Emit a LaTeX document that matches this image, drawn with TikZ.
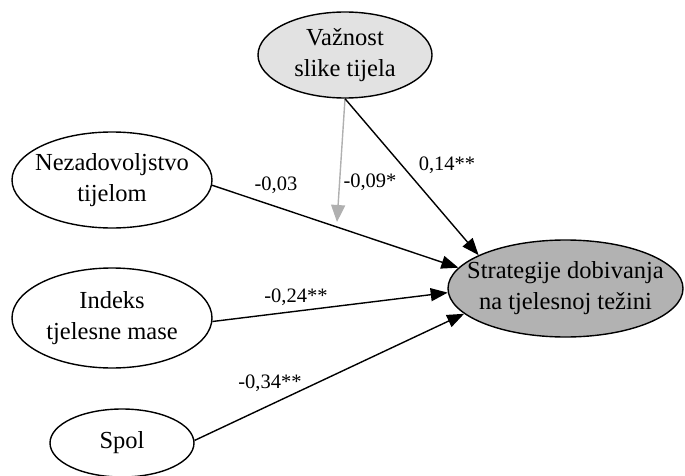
\documentclass[tikz,border=0pt]{standalone}
\usepackage{fontspec}
\setmainfont{Liberation Serif}
\usetikzlibrary{shapes.geometric,arrows.meta}
\definecolor{lightfill}{RGB}{226,226,226}
\definecolor{darkfill}{RGB}{178,178,178}
\definecolor{grayarrow}{RGB}{176,176,176}
\tikzset{
  var/.style={ellipse, draw=black, line width=1.4pt, inner sep=0pt},
  vtext/.style={align=center, font=\fontsize{24.5}{31}\selectfont},
  path/.style={draw=black, line width=1.4pt, -{Triangle[length=17pt,width=13pt]}},
  modpath/.style={draw=grayarrow, line width=1.4pt, -{Triangle[length=17pt,width=14pt]}},
  coef/.style={font=\fontsize{20.5}{24}\selectfont, inner sep=1pt},
}
\begin{document}
\begin{tikzpicture}[x=1pt,y=1pt]
\useasboundingbox (0,0) rectangle (685,475);
% nodes
\node[var, fill=lightfill, minimum width=174pt, minimum height=86pt] (V) at (345,420) {};
\node[vtext] (Vt) at (V.center) {Važnost\\slike tijela};
\node[var, fill=white, minimum width=200pt, minimum height=96pt] (N) at (112,295) {};
\node[vtext] (Nt) at (N.center) {Nezadovoljstvo\\tijelom};
\node[var, fill=white, minimum width=200pt, minimum height=100pt] (I) at (112,157) {};
\node[vtext] (It) at (I.center) {Indeks\\tjelesne mase};
\node[var, fill=white, minimum width=144pt, minimum height=68pt] (S) at (122,32) {};
\node[vtext] (St) at (S.center) {Spol};
\node[var, fill=darkfill, minimum width=235pt, minimum height=97pt] (T) at (565.5,186.5) {};
\node[vtext] (Tt) at (T.center) {Strategije dobivanja\\na tjelesnoj težini};
\coordinate (G) at (337,253);
% connectors
\draw[modpath] (V.south) -- (G);
\draw[path] (V.south) -- (T.159);
\draw[path] (N.-3) -- (T.169.5);
\draw[path] (I.-2.5) -- (T.182);
\draw[path] (S.2.5) -- (T.194);
% coefficients
\node[coef] (c1) at (447,310) {0,14**};
\node[coef] (c2) at (370,293) {-0,09*};
\node[coef] (c3) at (276,290) {-0,03};
\node[coef] (c4) at (296,178) {-0,24**};
\node[coef] (c5) at (270,92) {-0,34**};
\end{tikzpicture}
\end{document}
